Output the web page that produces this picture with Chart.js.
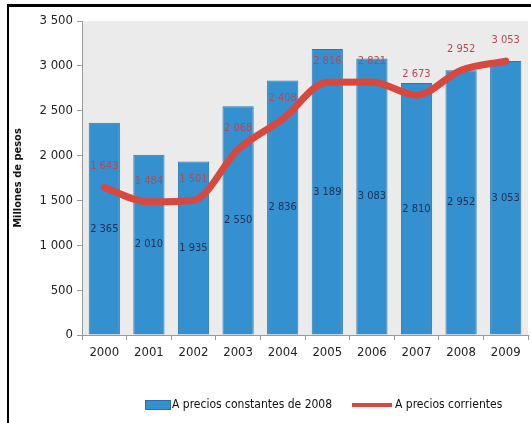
<!DOCTYPE html>
<html>
<head>
<meta charset="utf-8">
<script src="https://cdn.jsdelivr.net/npm/chart.js@4"></script>
<style>
  body { margin: 0; background: #fff; }
  #wrap { position: relative; width: 531px; height: 423px; }
  #frame { position: absolute; left: 7px; top: 4px; right: 0; bottom: 0;
           border-top: 3px solid #000; border-left: 2px solid #000; pointer-events: none; }
</style>
</head>
<body>
<div id="wrap">
  <canvas id="chart" width="531" height="423"></canvas>
  <div id="frame"></div>
</div>
<script>
const years = ["2000", "2001", "2002", "2003", "2004", "2005", "2006", "2007", "2008", "2009"];
const constantPrices = [2365, 2010, 1935, 2550, 2836, 3189, 3083, 2810, 2952, 3053];
const currentPrices = [1643, 1484, 1501, 2068, 2408, 2816, 2821, 2673, 2952, 3053];
const yTicks = [0, 500, 1000, 1500, 2000, 2500, 3000, 3500];

const FONT = "'Liberation Sans Narrow', 'DejaVu Sans Condensed', sans-serif";
const BAR = "#3590cf";
const LINE = "#d9483f";

function fmt(n) {
  return String(n).replace(/\B(?=(\d{3})+(?!\d))/g, " ");
}

// grey plot background
const bgPlugin = {
  id: "bg",
  beforeDraw(chart) {
    const a = chart.chartArea, c = chart.ctx;
    c.save();
    c.fillStyle = "#ebebeb";
    c.fillRect(a.left, a.top, a.right - a.left, a.bottom - a.top);
    c.restore();
  }
};

// value labels for bars and line
const labelPlugin = {
  id: "labels",
  afterDatasetsDraw(chart) {
    const c = chart.ctx;
    c.save();
    c.font = "11px " + FONT;
    c.textAlign = "center";
    c.textBaseline = "middle";
    const bars = chart.getDatasetMeta(0).data;
    bars.forEach((b, i) => {
      c.fillStyle = "#1d2f55";
      c.fillText(fmt(constantPrices[i]), b.x, (b.y + b.base) / 2);
    });
    const pts = chart.getDatasetMeta(1).data;
    pts.forEach((p, i) => {
      c.fillStyle = "#b04a55";
      c.fillText(fmt(currentPrices[i]), p.x, p.y - 21);
    });
    c.restore();
  }
};

// legend at bottom
const legendPlugin = {
  id: "customLegend",
  afterDraw(chart) {
    const c = chart.ctx;
    const y = 405;
    c.save();
    c.fillStyle = BAR;
    c.strokeStyle = "#2a6e9f";
    c.lineWidth = 1;
    c.fillRect(145, y - 5, 26, 10);
    c.strokeRect(145.5, y - 4.5, 25, 9);
    c.strokeStyle = LINE;
    c.lineWidth = 4;
    c.beginPath();
    c.moveTo(352, y);
    c.lineTo(392, y);
    c.stroke();
    c.fillStyle = "#111";
    c.font = "12px " + FONT;
    c.textBaseline = "middle";
    c.fillText(chart.data.datasets[0].label, 172, y);
    c.fillText(chart.data.datasets[1].label, 395, y);
    c.restore();
  }
};

new Chart(document.getElementById("chart"), {
  data: {
    labels: years,
    datasets: [
      {
        type: "bar",
        label: "A precios constantes de 2008",
        data: constantPrices,
        backgroundColor: BAR,
        borderColor: "#2a78b0",
        borderWidth: 1,
        barPercentage: 0.7,
        categoryPercentage: 1,
        order: 1
      },
      {
        type: "line",
        label: "A precios corrientes",
        data: currentPrices,
        borderColor: LINE,
        borderWidth: 7,
        pointRadius: 0,
        cubicInterpolationMode: "monotone",
        borderCapStyle: "round",
        borderJoinStyle: "round",
        order: 0
      }
    ]
  },
  options: {
    responsive: false,
    animation: false,
    layout: { padding: { left: 10, right: 3, top: 21, bottom: 48 } },
    plugins: {
      legend: { display: false },
      tooltip: { enabled: false }
    },
    scales: {
      x: {
        offset: true,
        grid: { display: true, offset: true, drawOnChartArea: false, color: "#999", tickLength: 5 },
        border: { color: "#999" },
        ticks: { color: "#222", font: { family: FONT, size: 13 }, padding: 5 },
        afterFit(s) { s.height = 40; }
      },
      y: {
        min: 0,
        max: 3500,
        afterBuildTicks(s) { s.ticks = yTicks.map(v => ({ value: v })); },
        grid: { display: true, drawOnChartArea: false, color: "#999", tickLength: 5 },
        border: { color: "#999" },
        ticks: {
          color: "#222",
          font: { family: FONT, size: 13 },
          padding: 4,
          callback: v => fmt(v)
        },
        title: {
          display: true,
          text: "Millones de pesos",
          color: "#111",
          font: { family: FONT, size: 11, weight: "bold" },
          padding: 2
        },
        afterFit(s) { s.width = 72; }
      }
    }
  },
  plugins: [bgPlugin, labelPlugin, legendPlugin]
});
</script>
</body>
</html>
